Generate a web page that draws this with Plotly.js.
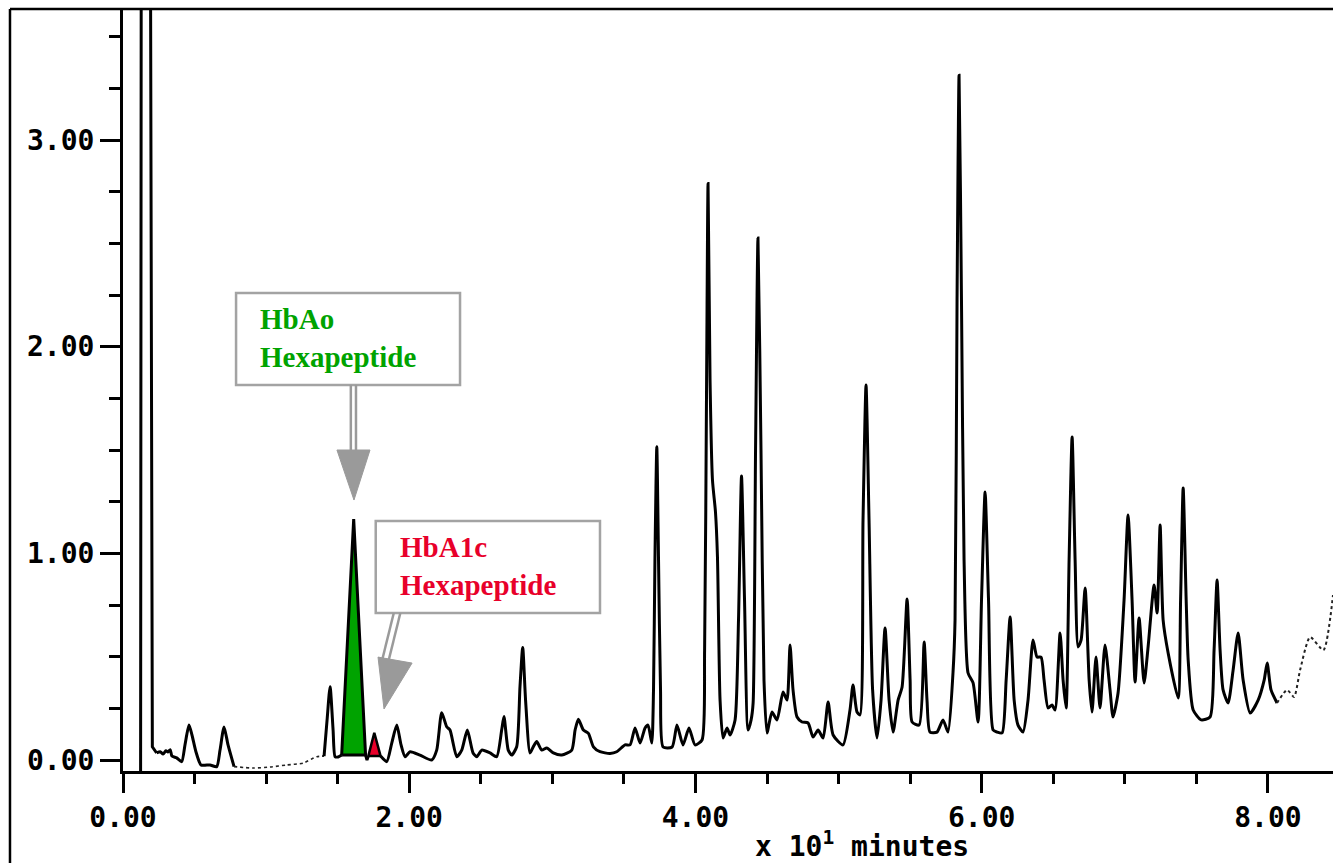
<!DOCTYPE html>
<html>
<head>
<meta charset="utf-8">
<script src="https://cdn.plot.ly/plotly-3.0.1.min.js"></script>
<style>html,body{margin:0;padding:0;background:#fff;}#chart{width:1333px;height:863px;}</style>
</head>
<body>
<div id="chart"></div>
<script>
// ---- Data (x in x10 minutes, y in absorbance units) ----
const solventX = [0.123, 0.128, 0.190, 0.205, 0.235];
const solventY = [-0.053, 4.5, 4.5, 0.064, 0.034];

const headX = [0.235, 0.260, 0.280, 0.300, 0.314, 0.330, 0.342, 0.375, 0.410, 0.433, 0.461, 0.482, 0.510, 0.545, 0.608, 0.655, 0.678, 0.706, 0.734, 0.776];
const headY = [0.034, 0.040, 0.029, 0.045, 0.039, 0.050, 0.019, 0.010, -0.008, 0.073, 0.169, 0.121, 0.039, -0.024, -0.024, -0.032, 0.048, 0.160, 0.073, -0.032];

const faintX = [0.776, 0.908, 1.027, 1.144, 1.258, 1.354, 1.405];
const faintY = [-0.032, -0.039, -0.034, -0.024, -0.015, 0.016, 0.019];

const preX = [1.405, 1.426, 1.447, 1.468, 1.482, 1.503, 1.528];
const preY = [0.019, 0.194, 0.355, 0.145, 0.016, 0.015, 0.024];

const gapX = [1.695, 1.705, 1.714];
const gapY = [0.024, 0.000, 0.019];

const mainX = [1.800, 1.843, 1.878, 1.913, 1.943, 1.971, 2.006, 2.075, 2.157, 2.192, 2.227, 2.262, 2.285, 2.332, 2.367, 2.406, 2.446, 2.472, 2.507, 2.565, 2.611, 2.646, 2.662, 2.692, 2.716, 2.751, 2.774, 2.793, 2.813, 2.844, 2.867, 2.891, 2.926, 2.961, 3.007, 3.066, 3.136, 3.159, 3.182, 3.217, 3.252, 3.287, 3.333, 3.403, 3.450, 3.508, 3.543, 3.578, 3.613, 3.648, 3.669, 3.695, 3.707, 3.717, 3.730, 3.742, 3.756, 3.774, 3.837, 3.871, 3.913, 3.955, 3.997, 4.046, 4.064, 4.078, 4.088, 4.102, 4.119, 4.140, 4.154, 4.172, 4.193, 4.221, 4.242, 4.277, 4.301, 4.322, 4.343, 4.368, 4.389, 4.403, 4.420, 4.437, 4.458, 4.479, 4.500, 4.535, 4.570, 4.612, 4.640, 4.661, 4.682, 4.710, 4.745, 4.787, 4.822, 4.857, 4.892, 4.927, 4.962, 5.031, 5.080, 5.101, 5.129, 5.150, 5.171, 5.192, 5.213, 5.238, 5.269, 5.297, 5.325, 5.353, 5.381, 5.416, 5.444, 5.479, 5.500, 5.514, 5.563, 5.598, 5.618, 5.639, 5.688, 5.730, 5.765, 5.800, 5.814, 5.828, 5.842, 5.859, 5.877, 5.905, 5.940, 5.975, 5.999, 6.024, 6.048, 6.080, 6.108, 6.143, 6.171, 6.199, 6.227, 6.254, 6.289, 6.324, 6.359, 6.387, 6.415, 6.436, 6.464, 6.492, 6.513, 6.548, 6.569, 6.590, 6.611, 6.632, 6.653, 6.674, 6.695, 6.723, 6.751, 6.771, 6.799, 6.827, 6.862, 6.897, 6.918, 6.953, 6.995, 7.023, 7.051, 7.072, 7.100, 7.135, 7.163, 7.205, 7.226, 7.247, 7.268, 7.303, 7.373, 7.390, 7.408, 7.429, 7.443, 7.478, 7.534, 7.596, 7.624, 7.645, 7.666, 7.687, 7.722, 7.757, 7.792, 7.827, 7.876, 7.932, 7.974, 7.995, 8.022, 8.064];
const mainY = [0.019, -0.008, 0.082, 0.169, 0.073, 0.016, 0.040, 0.024, 0.000, 0.048, 0.229, 0.161, 0.145, 0.016, 0.048, 0.145, 0.034, 0.016, 0.048, 0.034, 0.016, 0.145, 0.210, 0.048, 0.024, 0.064, 0.355, 0.545, 0.290, 0.034, 0.064, 0.089, 0.048, 0.058, 0.034, 0.024, 0.048, 0.145, 0.197, 0.145, 0.129, 0.064, 0.040, 0.032, 0.040, 0.073, 0.073, 0.155, 0.082, 0.155, 0.169, 0.082, 0.340, 0.970, 1.516, 0.970, 0.340, 0.063, 0.063, 0.169, 0.073, 0.155, 0.073, 0.097, 0.530, 1.840, 2.790, 1.840, 1.355, 1.200, 0.980, 0.290, 0.106, 0.155, 0.121, 0.194, 0.680, 1.374, 0.774, 0.145, 0.194, 0.276, 1.500, 2.526, 1.500, 0.387, 0.131, 0.232, 0.194, 0.329, 0.290, 0.556, 0.339, 0.208, 0.184, 0.179, 0.111, 0.145, 0.106, 0.281, 0.121, 0.073, 0.242, 0.363, 0.232, 0.218, 1.160, 1.814, 1.160, 0.339, 0.106, 0.290, 0.639, 0.290, 0.135, 0.290, 0.353, 0.779, 0.387, 0.184, 0.169, 0.571, 0.290, 0.135, 0.135, 0.194, 0.135, 0.426, 0.677, 2.226, 3.314, 2.226, 0.968, 0.421, 0.373, 0.184, 0.774, 1.297, 0.774, 0.145, 0.135, 0.131, 0.387, 0.692, 0.290, 0.169, 0.135, 0.290, 0.581, 0.498, 0.498, 0.387, 0.252, 0.266, 0.242, 0.615, 0.387, 0.252, 0.968, 1.563, 0.968, 0.547, 0.581, 0.832, 0.387, 0.232, 0.498, 0.252, 0.556, 0.339, 0.208, 0.324, 0.774, 1.185, 0.774, 0.377, 0.687, 0.373, 0.547, 0.847, 0.711, 1.137, 0.677, 0.518, 0.300, 0.774, 1.316, 0.774, 0.484, 0.242, 0.194, 0.208, 0.532, 0.871, 0.532, 0.339, 0.276, 0.435, 0.615, 0.387, 0.227, 0.290, 0.387, 0.469, 0.339, 0.276];

const tailX = [8.064, 8.134, 8.183, 8.225, 8.295, 8.388, 8.455];
const tailY = [0.276, 0.339, 0.305, 0.435, 0.595, 0.532, 0.798];

// Highlighted peaks
const hbaoX = [1.528, 1.612, 1.695, 1.528];
const hbaoY = [0.024, 1.166, 0.024, 0.024];
const hba1cX = [1.714, 1.756, 1.800, 1.714];
const hba1cY = [0.019, 0.132, 0.019, 0.019];

// Labels
const labelHbAo = "HbAo<br>Hexapeptide";
const labelHbA1c = "HbA1c<br>Hexapeptide";
const xTitle = "x 10<sup>1</sup> minutes";
const xTickVals = [0, 2, 4, 6, 8];
const yTickVals = [0, 1, 2, 3];

const monoFont = "DejaVu Sans Mono, Liberation Mono, monospace";
const serifFont = "Liberation Serif, Times New Roman, serif";
const green = "#00a300";
const red = "#e8002a";
const gray = "#9a9a9a";

const solid = {color: "#000", width: 3, shape: "spline", smoothing: 0.6};
const traces = [
  {x: solventX, y: solventY, mode: "lines", line: {color: "#000", width: 3}},
  {x: headX, y: headY, mode: "lines", line: solid},
  {x: faintX, y: faintY, mode: "lines", line: {color: "#222", width: 1.6, dash: "dot", shape: "spline", smoothing: 0.6}},
  {x: preX, y: preY, mode: "lines", line: solid},
  {x: gapX, y: gapY, mode: "lines", line: {color: "#000", width: 3}},
  {x: mainX, y: mainY, mode: "lines", line: solid},
  {x: tailX, y: tailY, mode: "lines", line: {color: "#222", width: 2, dash: "dot", shape: "spline", smoothing: 0.6}},
  {x: hbaoX, y: hbaoY, mode: "lines", fill: "toself", fillcolor: green, line: {color: "#000", width: 3}},
  {x: hba1cX, y: hba1cY, mode: "lines", fill: "toself", fillcolor: red, line: {color: "#000", width: 2.5}}
];

const shapes = [
  // outer frame (left and top)
  {type: "line", xref: "paper", yref: "paper", x0: -0.0934, x1: -0.0934, y0: -0.13, y1: 1.0, line: {color: "#000", width: 2.5}},
  {type: "line", xref: "paper", yref: "paper", x0: -0.0934, x1: 1.0, y0: 1.0, y1: 1.0, line: {color: "#000", width: 2.5}},
  // label boxes
  {type: "rect", xref: "x", yref: "y", x0: 0.790, x1: 2.355, y0: 1.815, y1: 2.260, line: {color: "#a3a3a3", width: 2.5}, fillcolor: "#fff"},
  {type: "rect", xref: "x", yref: "y", x0: 1.766, x1: 3.333, y0: 0.711, y1: 1.156, line: {color: "#a3a3a3", width: 2.5}, fillcolor: "#fff"},
  // arrow 1 (double shaft + head)
  {type: "line", xref: "x", yref: "y", x0: 1.592, x1: 1.592, y0: 1.815, y1: 1.49, line: {color: gray, width: 2.5}},
  {type: "line", xref: "x", yref: "y", x0: 1.628, x1: 1.628, y0: 1.815, y1: 1.49, line: {color: gray, width: 2.5}},
  {type: "path", xref: "x", yref: "y", path: "M 1.495,1.50 L 1.726,1.50 L 1.614,1.258 Z", fillcolor: gray, line: {color: gray, width: 1}},
  // arrow 2
  {type: "line", xref: "x", yref: "y", x0: 1.892, x1: 1.811, y0: 0.711, y1: 0.484, line: {color: gray, width: 2.5}},
  {type: "line", xref: "x", yref: "y", x0: 1.938, x1: 1.857, y0: 0.711, y1: 0.484, line: {color: gray, width: 2.5}},
  {type: "path", xref: "x", yref: "y", path: "M 1.782,0.498 L 2.020,0.469 L 1.824,0.247 Z", fillcolor: gray, line: {color: gray, width: 1}}
];

const annotations = [
  {xref: "x", yref: "y", x: 0.943, y: 2.042, xanchor: "left", yanchor: "middle", align: "left", showarrow: false,
   text: "<b>" + labelHbAo + "</b>", font: {family: serifFont, size: 29, color: green}},
  {xref: "x", yref: "y", x: 1.922, y: 0.939, xanchor: "left", yanchor: "middle", align: "left", showarrow: false,
   text: "<b>" + labelHbA1c + "</b>", font: {family: serifFont, size: 29, color: red}},
  {xref: "paper", yref: "paper", x: 0.611, y: -0.097, xanchor: "center", yanchor: "middle", showarrow: false,
   text: "<b>" + xTitle + "</b>", font: {family: monoFont, size: 28, color: "#000"}}
];

const layout = {
  width: 1333, height: 863,
  margin: {l: 123, r: 0, t: 9, b: 92, pad: 0},
  paper_bgcolor: "#fff", plot_bgcolor: "#fff",
  showlegend: false,
  hovermode: false,
  xaxis: {
    range: [0, 8.455], showgrid: false, zeroline: false,
    showline: true, linecolor: "#000", linewidth: 3,
    tickmode: "array", tickvals: xTickVals, tickformat: ".2f",
    ticks: "outside", ticklen: 19, tickwidth: 3, tickcolor: "#000",
    minor: {dtick: 0.5, tick0: 0, ticks: "outside", ticklen: 10, tickwidth: 3, tickcolor: "#000"},
    tickfont: {family: monoFont, size: 28, color: "#000", weight: "bold"}
  },
  yaxis: {
    range: [-0.0532, 3.634], showgrid: false, zeroline: false,
    showline: true, linecolor: "#000", linewidth: 3,
    tickmode: "array", tickvals: yTickVals, tickformat: ".2f",
    ticks: "outside", ticklen: 20, tickwidth: 3, tickcolor: "#000",
    minor: {dtick: 0.25, tick0: 0, ticks: "outside", ticklen: 11, tickwidth: 3, tickcolor: "#000"},
    tickfont: {family: monoFont, size: 28, color: "#000", weight: "bold"}
  },
  shapes: shapes,
  annotations: annotations
};

Plotly.newPlot("chart", traces, layout, {staticPlot: true, displayModeBar: false});
</script>
</body>
</html>
